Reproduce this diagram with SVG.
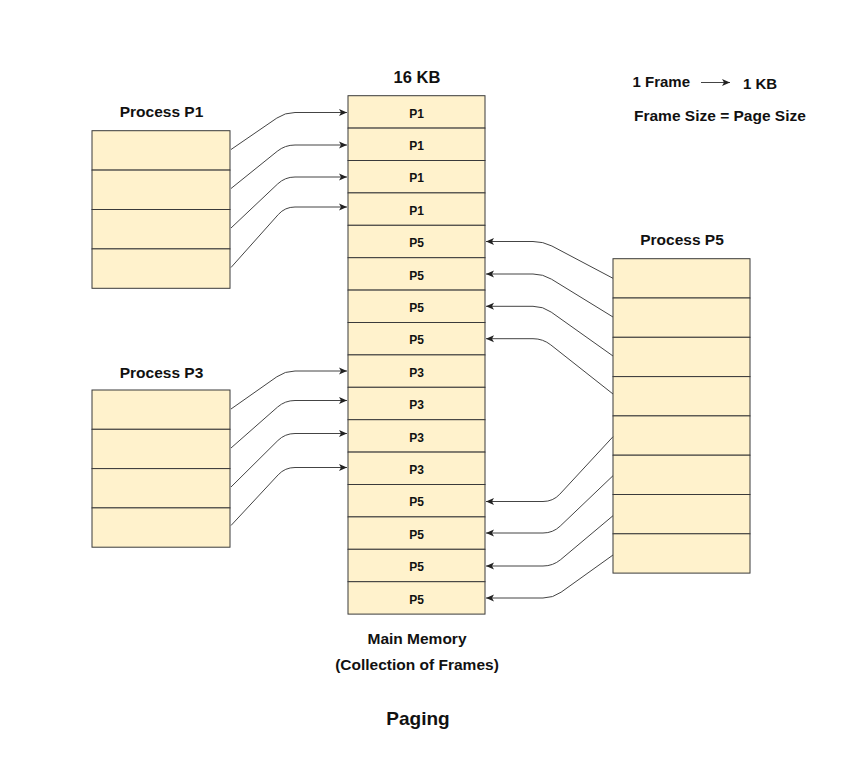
<svg xmlns="http://www.w3.org/2000/svg" width="868" height="760" viewBox="0 0 868 760">
<defs>
<marker id="arr" markerUnits="userSpaceOnUse" markerWidth="9" markerHeight="9" refX="8" refY="4" orient="auto">
<path d="M0,0.5 L8,4 L0,7.5 L2,4 Z" fill="#222"/>
</marker>
<style>
.cell{fill:#fff2cc;stroke:#3a3a3a;stroke-width:1}
.t{font-family:"Liberation Sans",Arial,Helvetica,sans-serif;font-weight:bold;fill:#111}
.h{font-size:15.5px}
.m{text-anchor:middle}
.c{font-size:12px;text-anchor:middle}
.conn path,.conn line{fill:none;stroke:#444;stroke-width:1;marker-end:url(#arr)}
</style>
</defs>
<rect width="868" height="760" fill="#fff"/>

<g id="memory">
<rect class="cell" x="348" y="95.7" width="137" height="32.4"/>
<rect class="cell" x="348" y="128.1" width="137" height="32.4"/>
<rect class="cell" x="348" y="160.5" width="137" height="32.4"/>
<rect class="cell" x="348" y="192.9" width="137" height="32.4"/>
<rect class="cell" x="348" y="225.3" width="137" height="32.4"/>
<rect class="cell" x="348" y="257.7" width="137" height="32.4"/>
<rect class="cell" x="348" y="290.1" width="137" height="32.4"/>
<rect class="cell" x="348" y="322.5" width="137" height="32.4"/>
<rect class="cell" x="348" y="354.9" width="137" height="32.4"/>
<rect class="cell" x="348" y="387.3" width="137" height="32.4"/>
<rect class="cell" x="348" y="419.7" width="137" height="32.4"/>
<rect class="cell" x="348" y="452.1" width="137" height="32.4"/>
<rect class="cell" x="348" y="484.5" width="137" height="32.4"/>
<rect class="cell" x="348" y="516.9" width="137" height="32.4"/>
<rect class="cell" x="348" y="549.3" width="137" height="32.4"/>
<rect class="cell" x="348" y="581.7" width="137" height="32.4"/>
<g class="t c">
<text x="416.5" y="117.6">P1</text>
<text x="416.5" y="150">P1</text>
<text x="416.5" y="182.4">P1</text>
<text x="416.5" y="214.8">P1</text>
<text x="416.5" y="247.2">P5</text>
<text x="416.5" y="279.6">P5</text>
<text x="416.5" y="312">P5</text>
<text x="416.5" y="344.4">P5</text>
<text x="416.5" y="376.8">P3</text>
<text x="416.5" y="409.2">P3</text>
<text x="416.5" y="441.6">P3</text>
<text x="416.5" y="474">P3</text>
<text x="416.5" y="506.4">P5</text>
<text x="416.5" y="538.8">P5</text>
<text x="416.5" y="571.2">P5</text>
<text x="416.5" y="603.6">P5</text>
</g>
<text class="t m" x="417" y="83" font-size="16.5">16 KB</text>
<text class="t h m" x="417" y="644">Main Memory</text>
<text class="t h m" x="417" y="670">(Collection of Frames)</text>
</g>

<g id="process-p1">
<text class="t h m" x="161.5" y="117">Process P1</text>
<rect class="cell" x="92" y="130.7" width="138" height="39.4"/>
<rect class="cell" x="92" y="170.1" width="138" height="39.4"/>
<rect class="cell" x="92" y="209.5" width="138" height="39.4"/>
<rect class="cell" x="92" y="248.9" width="138" height="39.4"/>
</g>

<g id="process-p3">
<text class="t h m" x="161.5" y="377.5">Process P3</text>
<rect class="cell" x="92" y="390" width="138" height="39.3"/>
<rect class="cell" x="92" y="429.3" width="138" height="39.3"/>
<rect class="cell" x="92" y="468.6" width="138" height="39.3"/>
<rect class="cell" x="92" y="507.9" width="138" height="39.3"/>
</g>

<g id="process-p5">
<text class="t h m" x="682" y="245">Process P5</text>
<rect class="cell" x="613" y="258.7" width="137" height="39.3"/>
<rect class="cell" x="613" y="298" width="137" height="39.3"/>
<rect class="cell" x="613" y="337.3" width="137" height="39.3"/>
<rect class="cell" x="613" y="376.6" width="137" height="39.3"/>
<rect class="cell" x="613" y="415.9" width="137" height="39.3"/>
<rect class="cell" x="613" y="455.2" width="137" height="39.3"/>
<rect class="cell" x="613" y="494.5" width="137" height="39.3"/>
<rect class="cell" x="613" y="533.8" width="137" height="39.3"/>
</g>

<g class="conn" id="connectors">
<path d="M231,149.5 L276.8,118.1 Q285,112.5 295,112.5 L347,112.5"/>
<path d="M231,188.5 L277.2,151.3 Q285,145 295,145 L347,145"/>
<path d="M231,228 L277.7,183.9 Q285,177 295,177 L347,177"/>
<path d="M231,267.5 L278.3,214.5 Q285,207 295,207 L347,207"/>

<path d="M231,409 L276.8,376.8 Q285,371 295,371 L347,371"/>
<path d="M231,448 L277.5,407.1 Q285,400.5 295,400.5 L347,400.5"/>
<path d="M231,487 L277.9,440.5 Q285,433.5 295,433.5 L347,433.5"/>
<path d="M231,525.5 L278.2,474.8 Q285,467.5 295,467.5 L347,467.5"/>

<path d="M613,278.3 L551.9,246 Q543,241.5 533,241.5 L486,241.5"/>
<path d="M613,317 L551.5,279.2 Q543,274 533,274 L486,274"/>
<path d="M613,356 L551.2,312.1 Q543,306.3 533,306.3 L486,306.3"/>
<path d="M613,394 L550.8,344.9 Q543,338.7 533,338.7 L486,338.7"/>

<path d="M613,436.7 L559.8,494.2 Q553,501.5 543,501.5 L486,501.5"/>
<path d="M613,475.7 L560.2,526.1 Q553,533 543,533 L486,533"/>
<path d="M613,515.7 L560.7,559.6 Q553,566 543,566 L486,566"/>
<path d="M613,555 L561.1,592.2 Q553,598 543,598 L486,598"/>
</g>

<g id="legend">
<text class="t" x="632.5" y="87" font-size="15">1 Frame</text>
<g class="conn"><line x1="701" y1="82.5" x2="730" y2="82.5"/></g>
<text class="t" x="743" y="89" font-size="15">1 KB</text>
<text class="t h" x="634" y="121">Frame Size = Page Size</text>
</g>

<g id="title">
<text class="t m" x="418" y="725" font-size="19">Paging</text>
</g>
</svg>
